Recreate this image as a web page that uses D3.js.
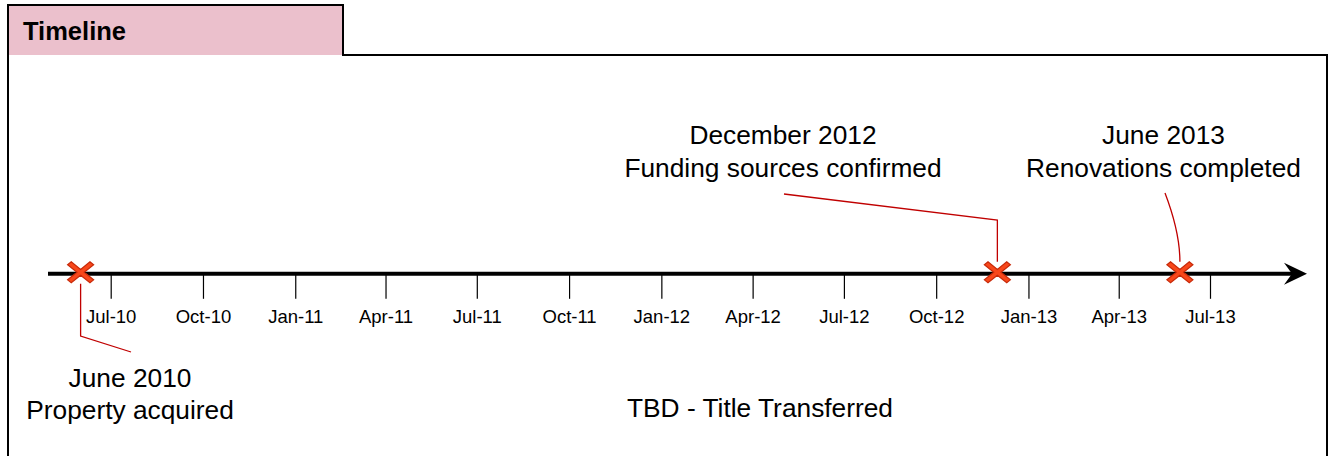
<!DOCTYPE html>
<html>
<head>
<meta charset="utf-8">
<script src="https://cdn.jsdelivr.net/npm/d3@7"></script>
<style>
  html, body { margin: 0; padding: 0; background: #fff; }
  svg { display: block; font-family: "Liberation Sans", Arial, sans-serif; }
</style>
</head>
<body>
<svg id="chart" width="1328" height="456"></svg>
<script>
// ---- data ----
const tickDates = ["2010-07-01","2010-10-01","2011-01-01","2011-04-01","2011-07-01","2011-10-01",
                   "2012-01-01","2012-04-01","2012-07-01","2012-10-01","2013-01-01","2013-04-01","2013-07-01"];
const tickLabels = ["Jul-10","Oct-10","Jan-11","Apr-11","Jul-11","Oct-11",
                    "Jan-12","Apr-12","Jul-12","Oct-12","Jan-13","Apr-13","Jul-13"];
const eventDates = ["2010-06-01","2012-12-01","2013-06-01"];
const eventTitles = ["June 2010","December 2012","June 2013"];
const eventNotes = ["Property acquired","Funding sources confirmed","Renovations completed"];
const pendingNote = "TBD - Title Transferred";
const chartTitle = "Timeline";

// ---- layout ----
const FONT = "'Liberation Sans', Arial, sans-serif";
const parse = d3.timeParse("%Y-%m-%d");
const svg = d3.select("#chart");
const W = 1328, H = 456;
const axisY = 273.8;
const x = d3.scaleTime()
  .domain([parse("2010-07-01"), parse("2013-07-01")])
  .range([110.7, 1210]);

// frame
svg.append("rect").attr("x", 8).attr("y", 5).attr("width", 335).attr("height", 50)
  .attr("fill", "#EBC0CC");
svg.append("path")
  .attr("d", `M8,${H+2} L8,5 L343,5 L343,55 L1327,55 L1327,${H+2}`)
  .attr("fill", "none").attr("stroke", "#000").attr("stroke-width", 2);
svg.append("text").attr("x", 23).attr("y", 40)
  .attr("font-family", FONT)
  .attr("font-size", 25.5).attr("font-weight", "bold").attr("fill", "#000")
  .text(chartTitle);

// axis line + arrow
svg.append("line").attr("x1", 48).attr("x2", 1292).attr("y1", axisY).attr("y2", axisY)
  .attr("stroke", "#000").attr("stroke-width", 4);
svg.append("path")
  .attr("d", `M1307,${axisY} L1284,${axisY-11} L1292,${axisY} L1284,${axisY+11} Z`)
  .attr("fill", "#000");

// ticks via d3 axis
const axis = d3.axisBottom(x)
  .tickValues(tickDates.map(parse))
  .tickFormat((d, i) => tickLabels[i])
  .tickSize(25)
  .tickPadding(11);
const gAxis = svg.append("g").attr("transform", `translate(0,${axisY})`).call(axis);
gAxis.select(".domain").remove();
gAxis.selectAll(".tick line").attr("stroke", "#000").attr("stroke-width", 1.2);
gAxis.selectAll(".tick text").attr("font-size", 18.5).attr("fill", "#000")
  .attr("font-family", FONT);

// leader lines
const lineColor = "#C00000";
const ex = eventDates.map(d => x(parse(d)));
const leaders = [
  `M${ex[0]},${axisY+10} L${ex[0]},336 L131,352`,
  `M${ex[1]},${axisY-12} L${ex[1]},220 L784,194`,
  `M${ex[2]},${axisY-12} Q${ex[2]},232 1165,193`
];
svg.append("g").selectAll("path").data(leaders).join("path")
  .attr("d", d => d).attr("fill", "none")
  .attr("stroke", lineColor).attr("stroke-width", 1.3);

// X markers
const sx = 13, sy = 10.5, a = 0.28;
function xPath() {
  const p = [
    [-1, -1+a], [-1+a, -1], [0, -a], [1-a, -1], [1, -1+a], [a, 0],
    [1, 1-a], [1-a, 1], [0, a], [-1+a, 1], [-1, 1-a], [-a, 0]
  ];
  return "M" + p.map(q => `${q[0]*sx},${q[1]*sy}`).join("L") + "Z";
}
svg.append("g").selectAll("path").data(eventDates).join("path")
  .attr("transform", d => `translate(${x(parse(d))},${axisY-1.5})`)
  .attr("d", xPath())
  .attr("fill", "#F8471A").attr("stroke", "#C72A0A").attr("stroke-width", 1.2)
  .attr("stroke-linejoin", "miter");

// labels
const labelPos = [
  { cx: 130, y1: 387, y2: 419 },
  { cx: 783, y1: 144, y2: 177 },
  { cx: 1163.5, y1: 144, y2: 177 }
];
const lg = svg.append("g").attr("font-family", FONT).attr("font-size", 26.3)
  .attr("fill", "#000").attr("text-anchor", "middle");
eventTitles.forEach((t, i) => {
  lg.append("text").attr("x", labelPos[i].cx).attr("y", labelPos[i].y1).text(t);
  lg.append("text").attr("x", labelPos[i].cx).attr("y", labelPos[i].y2).text(eventNotes[i]);
});
lg.append("text").attr("x", 760).attr("y", 417).text(pendingNote);
</script>
</body>
</html>
